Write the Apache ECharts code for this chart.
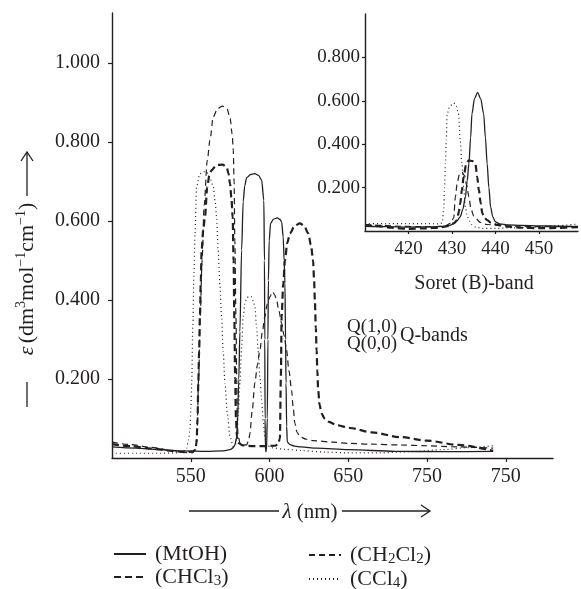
<!DOCTYPE html>
<html><head><meta charset="utf-8">
<script src="https://cdn.jsdelivr.net/npm/echarts@6/dist/echarts.min.js"></script>
<style>html,body{margin:0;padding:0;background:#fff}#c{width:581px;height:589px}</style>
</head><body><div id="c"></div>
<script>
// ---------- DATA ----------
// Q-band region (main panel): [wavelength nm, epsilon]
const qMtOH = [[500,0.028],[515,0.025],[530,0.021],[545,0.018],[560,0.017],[570,0.018],[575,0.021],[577,0.026],[578,0.033],[579,0.05],[579.7,0.09],[580.5,0.2],[581.2,0.32],[582.3,0.527],[583.3,0.65],[584.3,0.69],[585.5,0.71],[588,0.718],[590.7,0.72],[593,0.716],[595,0.704],[596.4,0.653],[596.8,0.5],[597.0,0.3],[597.2,0.1],[597.4,0.03],[597.7,0.016],[598.1,0.02],[598.6,0.1],[599.0,0.3],[599.3,0.45],[599.8,0.55],[600.7,0.594],[602.5,0.605],[604.9,0.608],[606.8,0.604],[607.7,0.598],[608.7,0.56],[609.3,0.5],[609.8,0.443],[610.2,0.3],[610.5,0.19],[610.9,0.08],[611.3,0.04],[613,0.034],[616,0.03],[620,0.028],[630,0.025],[650,0.021],[680,0.017],[710,0.016],[742,0.017]];
const qCH2Cl2 = [[500,0.04],[512,0.034],[525,0.027],[538,0.019],[546,0.014],[551,0.013],[553,0.02],[554,0.06],[555,0.2],[556,0.36],[557.2,0.5],[558.5,0.64],[560.5,0.754],[562.2,0.805],[564.3,0.864],[567,0.885],[570.2,0.891],[573,0.885],[575,0.86],[576.3,0.82],[577,0.78],[577.5,0.7],[578,0.55],[578.7,0.358],[579.2,0.2],[579.5,0.1],[580,0.06],[581.2,0.038],[583,0.033],[585.5,0.033],[587,0.05],[587.6,0.063],[589,0.12],[590.7,0.19],[592.3,0.235],[593.9,0.273],[595.5,0.32],[597,0.357],[598.6,0.39],[600.2,0.408],[602,0.421],[603.3,0.413],[604.5,0.4],[606,0.372],[607.7,0.341],[609.3,0.31],[610.8,0.273],[612.4,0.22],[614,0.172],[615,0.13],[616.1,0.088],[617.5,0.065],[619.3,0.054],[623,0.048],[627.7,0.044],[640,0.04],[651,0.037],[665,0.035],[682.7,0.033],[700,0.031],[720,0.028],[742,0.025]];
const qCHCl3 = [[500,0.035],[512,0.03],[525,0.024],[538,0.018],[546,0.015],[551,0.016],[552.8,0.02],[553.7,0.038],[554.3,0.1],[554.8,0.19],[555.3,0.27],[555.8,0.358],[556.4,0.45],[556.9,0.527],[558,0.58],[559,0.61],[560.5,0.687],[561.8,0.715],[563.2,0.729],[566.4,0.742],[570.2,0.743],[572.8,0.737],[574,0.72],[574.9,0.695],[575.8,0.66],[576.6,0.61],[577.2,0.5],[577.7,0.35],[578.2,0.2],[578.7,0.1],[579.3,0.055],[580.1,0.038],[583,0.032],[590,0.03],[597,0.03],[603,0.031],[605.5,0.034],[606.6,0.05],[607.2,0.2],[607.7,0.358],[608.7,0.44],[609.8,0.5],[611.3,0.545],[613,0.569],[616,0.588],[619.3,0.594],[622,0.588],[624.6,0.569],[626.3,0.54],[627.7,0.5],[628.3,0.45],[628.8,0.4],[629.4,0.33],[629.9,0.273],[630.4,0.22],[630.9,0.172],[631.8,0.135],[633,0.113],[635,0.1],[637.3,0.092],[643,0.083],[651,0.076],[665,0.065],[682.7,0.053],[700,0.044],[720,0.033],[742,0.018]];
const qCCl4 = [[500,0.012],[515,0.012],[530,0.012],[540,0.013],[545,0.016],[547.4,0.025],[548.5,0.045],[549.5,0.071],[550.1,0.13],[550.6,0.19],[551.3,0.33],[552,0.46],[552.7,0.57],[553.7,0.687],[555.8,0.72],[558,0.725],[560,0.725],[562.2,0.71],[564.3,0.687],[565.5,0.65],[566.4,0.61],[567.4,0.527],[568.5,0.44],[569.6,0.358],[570.6,0.27],[571.7,0.19],[573.3,0.11],[574.9,0.054],[577,0.029],[578.5,0.035],[579.5,0.07],[580.3,0.12],[581.2,0.19],[582.3,0.28],[583.3,0.358],[584.3,0.39],[585.5,0.405],[587,0.41],[588.6,0.408],[589.7,0.398],[590.7,0.383],[591.8,0.33],[592.8,0.273],[594,0.2],[595,0.147],[596,0.095],[597,0.054],[598.5,0.033],[601,0.026],[610,0.022],[620,0.019],[635,0.015],[650,0.013],[670,0.013],[690,0.016],[710,0.021],[725,0.026],[742,0.031]];

// Soret band (inset)
const bMtOH = [[410,0.022],[415,0.02],[420,0.018],[425,0.019],[428,0.021],[429.5,0.026],[430.4,0.034],[431.2,0.048],[431.9,0.065],[432.5,0.1],[433.1,0.157],[433.5,0.23],[433.9,0.31],[434.3,0.43],[434.6,0.54],[435.2,0.61],[435.9,0.639],[436.6,0.61],[437.3,0.54],[437.7,0.43],[438.1,0.31],[438.5,0.2],[438.9,0.11],[439.4,0.065],[440,0.042],[441,0.033],[443,0.028],[446,0.026],[450,0.024],[455,0.022],[459,0.02]];
const bCH2Cl2 = [[410,0.03],[414,0.026],[418,0.022],[422,0.02],[426,0.02],[428.5,0.024],[429.7,0.035],[430.4,0.06],[430.8,0.157],[431.2,0.22],[431.7,0.26],[432.3,0.27],[432.9,0.255],[433.4,0.21],[433.9,0.157],[434.4,0.1],[435,0.07],[436.5,0.04],[438,0.03],[441,0.025],[445,0.022],[450,0.02],[455,0.02],[459,0.022]];
const bCHCl3 = [[410,0.028],[413,0.022],[416,0.015],[420,0.01],[424,0.012],[427,0.016],[429,0.022],[430.4,0.035],[431.2,0.05],[431.6,0.09],[431.9,0.126],[432.3,0.19],[432.7,0.25],[433.3,0.31],[433.9,0.326],[434.7,0.322],[435.4,0.31],[435.8,0.25],[436.2,0.188],[436.6,0.13],[437,0.08],[437.5,0.06],[438.1,0.05],[439,0.038],[440.5,0.028],[443,0.02],[446,0.015],[450,0.013],[454,0.014],[459,0.018]];
const bCCl4 = [[410,0.034],[415,0.034],[420,0.034],[424,0.034],[427.3,0.033],[427.8,0.04],[428.1,0.1],[428.3,0.2],[428.5,0.31],[428.7,0.42],[428.9,0.54],[429.5,0.575],[430.4,0.59],[431,0.575],[431.5,0.54],[431.9,0.42],[432.3,0.31],[432.7,0.2],[433.1,0.11],[433.5,0.07],[433.9,0.05],[434.5,0.03],[435.5,0.018],[437,0.012],[440,0.012],[443,0.014],[447,0.016],[450,0.018],[454,0.025],[459,0.032]];

// Tick values and labels
const mainXTicks = [550, 600, 650, 700, 750];
const mainXLabels = ['550', '600', '650', '750', '750'];
const mainYTicks = [0.2, 0.4, 0.6, 0.8, 1.0];
const mainYLabels = ['0.200', '0.400', '0.600', '0.800', '1.000'];
const insetXTicks = [420, 430, 440, 450];
const insetXLabels = ['420', '430', '440', '450'];
const insetYTicks = [0.2, 0.4, 0.6, 0.8];
const insetYLabels = ['0.200', '0.400', '0.600', '0.800'];

const seriesNames = ['MtOH', 'CH2Cl2', 'CHCl3', 'CCl4'];
const legendTexts = {
  MtOH: '{t|(MtOH)}',
  CH2Cl2: '{t|(CH}{s|2}{t|Cl}{s|2}{t|)}',
  CHCl3: '{t|(CHCl}{s|3}{t|)}',
  CCl4: '{t|(CCl}{s|4}{t|)}'
};

// ---------- STYLE ----------
const FONT = '"Liberation Serif", "Times New Roman", serif';
const INK = '#231f20';
const lineStyles = {
  MtOH: { color: INK, width: 1.3, type: 'solid' },
  CH2Cl2: { color: INK, width: 1.2, type: [6, 4] },
  CHCl3: { color: INK, width: 2.2, type: [7, 4] },
  CCl4: { color: INK, width: 1.2, type: [1, 3] }
};
const pick = (ticks, labels) => v => {
  let best = 0;
  ticks.forEach((t, i) => { if (Math.abs(t - v) < Math.abs(ticks[best] - v)) best = i; });
  return labels[best];
};

const qData = { MtOH: qMtOH, CH2Cl2: qCH2Cl2, CHCl3: qCHCl3, CCl4: qCCl4 };
const bData = { MtOH: bMtOH, CH2Cl2: bCH2Cl2, CHCl3: bCHCl3, CCl4: bCCl4 };

const series = [];
seriesNames.forEach(n => {
  series.push({ name: n, type: 'line', xAxisIndex: 0, yAxisIndex: 0, data: qData[n], symbol: 'none',
    smooth: 0.3, smoothMonotone: 'x', lineStyle: lineStyles[n], itemStyle: { color: INK }, silent: true });
});
seriesNames.forEach(n => {
  series.push({ name: n, type: 'line', xAxisIndex: 1, yAxisIndex: 1, data: bData[n], symbol: 'none',
    smooth: 0.3, smoothMonotone: 'x', lineStyle: lineStyles[n], itemStyle: { color: INK }, silent: true });
});

const axisLine = { show: true, lineStyle: { color: INK, width: 1.4 } };
const tickStyle = { color: INK, width: 1.2 };
const lbl = (size, margin, ticks, labels) => ({ customValues: ticks, formatter: pick(ticks, labels),
  fontSize: size, fontFamily: FONT, color: INK, margin: margin });

const legendBase = {
  orient: 'vertical', itemWidth: 32, itemHeight: 14, itemGap: 0, padding: 0, height: 80, selectedMode: false,
  itemStyle: { opacity: 0, color: 'transparent', borderWidth: 0 },
  formatter: n => legendTexts[n],
  textStyle: { padding: [0, 0, 0, 4], rich: {
    t: { fontSize: 22, fontFamily: FONT, color: INK, lineHeight: 24 },
    s: { fontSize: 15, fontFamily: FONT, color: INK, lineHeight: 15, padding: [9, 0, 0, 0] }
  } }
};

const option = {
  animation: false,
  backgroundColor: '#fff',
  grid: [
    { left: 112, right: 28, top: 13, bottom: 131 },
    { left: 365, right: 3, top: 14, bottom: 358 }
  ],
  xAxis: [
    { type: 'value', gridIndex: 0, min: 500, max: 780, axisLine: axisLine, splitLine: { show: false },
      axisTick: { show: true, length: 4, customValues: mainXTicks, lineStyle: tickStyle },
      axisLabel: lbl(20, 9, mainXTicks, mainXLabels) },
    { type: 'value', gridIndex: 1, min: 410, max: 459, axisLine: axisLine, splitLine: { show: false },
      axisTick: { show: true, length: 3, customValues: insetXTicks, lineStyle: tickStyle },
      axisLabel: lbl(19, 9, insetXTicks, insetXLabels) }
  ],
  yAxis: [
    { type: 'value', gridIndex: 0, min: 0, max: 1.127, axisLine: axisLine, splitLine: { show: false },
      axisTick: { show: true, length: 4, customValues: mainYTicks, lineStyle: tickStyle },
      axisLabel: lbl(20, 12, mainYTicks, mainYLabels) },
    { type: 'value', gridIndex: 1, min: 0, max: 1.0, axisLine: axisLine, splitLine: { show: false },
      axisTick: { show: true, length: 3, customValues: insetYTicks, lineStyle: tickStyle },
      axisLabel: lbl(19, 5, insetYTicks, insetYLabels) }
  ],
  legend: [
    Object.assign({ left: 113, top: 543, data: ['MtOH', 'CHCl3'] }, legendBase),
    Object.assign({ left: 308, top: 543, data: ['CH2Cl2', 'CCl4'] }, legendBase)
  ],
  graphic: [
    // y-axis title
    { type: 'text', x: 27, y: 279, rotation: Math.PI / 2,
      style: { text: '{e|ε} {t|(dm}{u|3}{t|mol}{u|−1}{t|cm}{u|−1}{t|)}', align: 'center', verticalAlign: 'middle',
        rich: {
          e: { fontSize: 22, fontFamily: FONT, fontStyle: 'italic', fill: INK, lineHeight: 26 },
          t: { fontSize: 22, fontFamily: FONT, fill: INK, lineHeight: 26 },
          u: { fontSize: 14, fontFamily: FONT, fill: INK, lineHeight: 13, verticalAlign: 'top' }
        } } },
    { type: 'line', shape: { x1: 27, y1: 407, x2: 27, y2: 382 }, style: { stroke: INK, lineWidth: 1.3 } },
    { type: 'line', shape: { x1: 27, y1: 196, x2: 27, y2: 152 }, style: { stroke: INK, lineWidth: 1.3 } },
    { type: 'polyline', shape: { points: [[21, 161], [27, 152], [33, 161]] }, style: { stroke: INK, lineWidth: 1.3, fill: null } },
    // x-axis title
    { type: 'text', x: 310, y: 512,
      style: { text: '{e|λ}{t| (nm)}', align: 'center', verticalAlign: 'middle',
        rich: {
          e: { fontSize: 21, fontFamily: FONT, fontStyle: 'italic', fill: INK },
          t: { fontSize: 21, fontFamily: FONT, fill: INK }
        } } },
    { type: 'line', shape: { x1: 189, y1: 511, x2: 279, y2: 511 }, style: { stroke: INK, lineWidth: 1.3 } },
    { type: 'line', shape: { x1: 342, y1: 511, x2: 430, y2: 511 }, style: { stroke: INK, lineWidth: 1.3 } },
    { type: 'polyline', shape: { points: [[421, 505], [430, 511], [421, 517]] }, style: { stroke: INK, lineWidth: 1.3, fill: null } },
    // inset caption
    { type: 'text', x: 474, y: 284, style: { text: 'Soret (B)-band', fontSize: 20, fontFamily: FONT, fill: INK, align: 'center', verticalAlign: 'middle' } },
    // Q band annotations
    { type: 'text', x: 347, y: 327, style: { text: 'Q(1,0)', fontSize: 19, fontFamily: FONT, fill: INK, align: 'left', verticalAlign: 'middle' } },
    { type: 'text', x: 347, y: 344, style: { text: 'Q(0,0)', fontSize: 19, fontFamily: FONT, fill: INK, align: 'left', verticalAlign: 'middle' } },
    { type: 'text', x: 400, y: 336, style: { text: 'Q-bands', fontSize: 20, fontFamily: FONT, fill: INK, align: 'left', verticalAlign: 'middle' } }
  ],
  series: series
};

const chart = echarts.init(document.getElementById('c'), null, { renderer: 'canvas' });
chart.setOption(option);
</script>
</body></html>
